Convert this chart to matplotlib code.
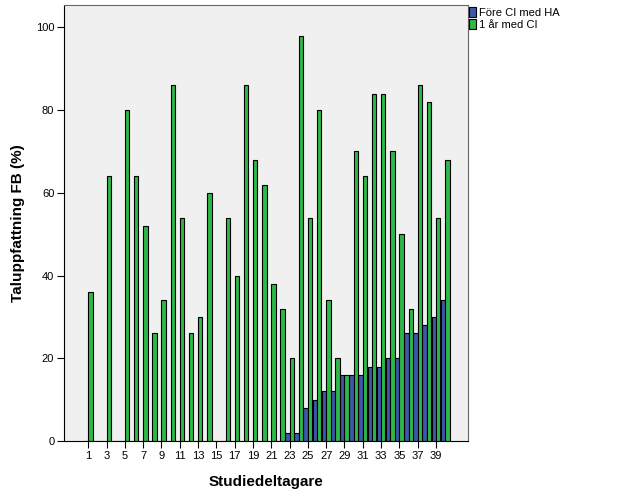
import matplotlib
matplotlib.use("Agg")
import matplotlib.pyplot as plt
import numpy as np

plt.rcParams['font.family'] = ['Liberation Sans', 'DejaVu Sans']

participants = np.arange(1, 41)
fore_ci = [0, 0, 0, 0, 0, 0, 0, 0, 0, 0,
           0, 0, 0, 0, 0, 0, 0, 0, 0, 0,
           0, 0, 2, 2, 8, 10, 12, 12, 16, 16,
           16, 18, 18, 20, 20, 26, 26, 28, 30, 34]
ett_ar = [36, 0, 64, 0, 80, 64, 52, 26, 34, 86,
          54, 26, 30, 60, 0, 54, 40, 86, 68, 62,
          38, 32, 20, 98, 54, 80, 34, 20, 16, 70,
          64, 84, 84, 70, 50, 32, 86, 82, 54, 68]
labels = ['Före CI med HA', '1 år med CI']
xticks = np.arange(1, 40, 2)

fig = plt.figure(figsize=(6.26, 5.01), dpi=100)
ax = fig.add_axes([64/626, 1-441/501, (468-64)/626, (441-5)/501])
ax.set_facecolor('#f0f0f0')

w = 0.48
ax.bar(participants - w/2, fore_ci, width=w, color='#3e58ac', edgecolor='black', linewidth=0.8, label=labels[0])
ax.bar(participants + w/2, ett_ar, width=w, color='#2eb848', edgecolor='black', linewidth=0.8, label=labels[1])

ax.set_xlim(-1.65, 42.5)
ax.set_ylim(0, 105.4)
ax.set_xticks(xticks)
ax.set_yticks(np.arange(0, 101, 20))
ax.tick_params(axis='both', labelsize=8, length=5, width=0.8, color='black', pad=2)

for s in ['top', 'right']:
    ax.spines[s].set_color('#666666')
for s in ['left', 'bottom']:
    ax.spines[s].set_color('black')

ax.set_xlabel('Studiedeltagare', fontsize=11, fontweight='bold', labelpad=10)
ax.set_ylabel('Taluppfattning FB (%)', fontsize=11, fontweight='bold', labelpad=8)

fig.legend(loc='upper left', bbox_to_anchor=(469/626, 1-7/501), frameon=False,
           fontsize=8, handlelength=0.6, handleheight=1.0, handletextpad=0.3,
           borderpad=0, borderaxespad=0, labelspacing=0.15)

fig.savefig('out.png', dpi=100)
